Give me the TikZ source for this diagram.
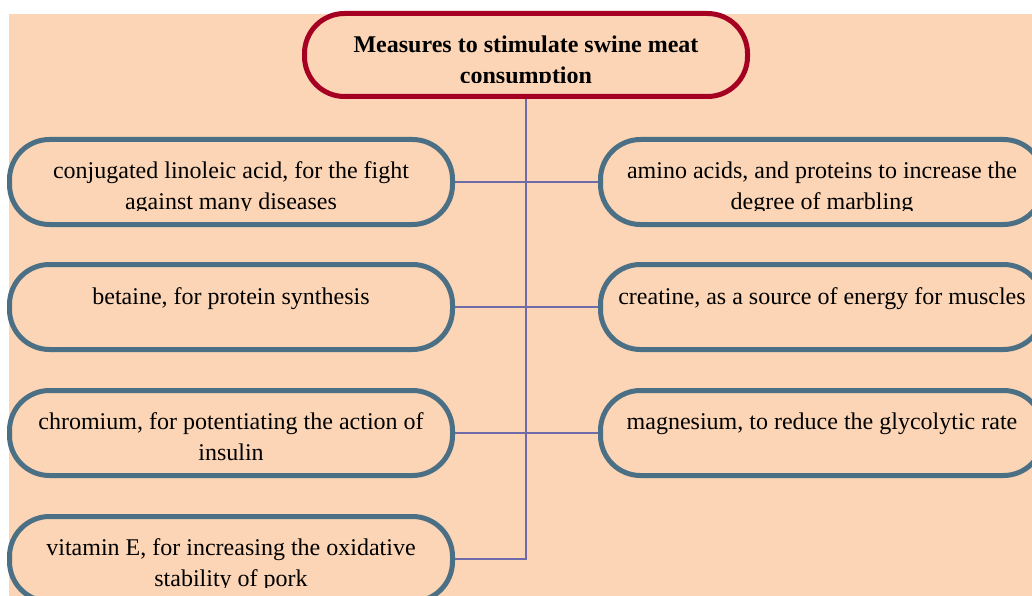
\documentclass[tikz,border=0pt]{standalone}
\usepackage{fontspec}
\setmainfont{Liberation Serif}
\definecolor{bgpeach}{RGB}{251,213,181}
\definecolor{edgeblue}{RGB}{75,111,133}
\definecolor{topred}{RGB}{165,0,33}
\definecolor{connc}{RGB}{110,108,168}
\tikzset{
  itembox/.style={draw=edgeblue, line width=5pt, fill=bgpeach, rounded corners=40pt,
    minimum width=443pt, minimum height=85pt, inner sep=0pt},
  topbox/.style={itembox, draw=topred, minimum height=83pt},
  itemtext/.style={font=\fontsize{24}{31}\selectfont, align=center, anchor=base, inner sep=0pt},
  titletext/.style={itemtext, font=\fontsize{24}{31}\selectfont\bfseries},
  conn/.style={draw=connc, line width=1.8pt}
}
\newcommand{\boxitem}[7]{% name, x, y, box style, text style, last-baseline offset, text
  \node[#4] (#1) at (#2,#3) {};
  \begin{scope}
    \clip (#2-221,#3-45) rectangle (#2+221,#3+28);
    \node[#5] (#1t) at (#2,#3+#6) {#7};
  \end{scope}}
\begin{document}
\begin{tikzpicture}[x=1pt,y=-1pt]
\useasboundingbox (0,0) rectangle (1032,596);
\fill[bgpeach] (9,14) rectangle (1032,596);
\boxitem{top}{526}{55}{topbox}{titletext}{29}{Measures to stimulate swine meat\\consumption}
\boxitem{l1}{231}{182}{itembox}{itemtext}{27.5}{conjugated linoleic acid, for the fight\\against many diseases}
\boxitem{l2}{231}{307}{itembox}{itemtext}{-3}{betaine, for protein synthesis}
\boxitem{l3}{231}{433}{itembox}{itemtext}{27.5}{chromium, for potentiating the action of\\insulin}
\boxitem{l4}{231}{559}{itembox}{itemtext}{27.5}{vitamin E, for increasing the oxidative\\stability of pork}
\boxitem{r1}{822}{182}{itembox}{itemtext}{27.5}{amino acids, and proteins to increase the\\degree of marbling}
\boxitem{r2}{822}{307}{itembox}{itemtext}{-3}{creatine, as a source of energy for muscles}
\boxitem{r3}{822}{433}{itembox}{itemtext}{-3.5}{magnesium, to reduce the glycolytic rate}
\coordinate (jn) at (526,559);
\draw[conn] (top.south) -- (jn) -- (l4.east);
\draw[conn] (l1.east) -- (r1.west);
\draw[conn] (l2.east) -- (r2.west);
\draw[conn] (l3.east) -- (r3.west);
\end{tikzpicture}
\end{document}
